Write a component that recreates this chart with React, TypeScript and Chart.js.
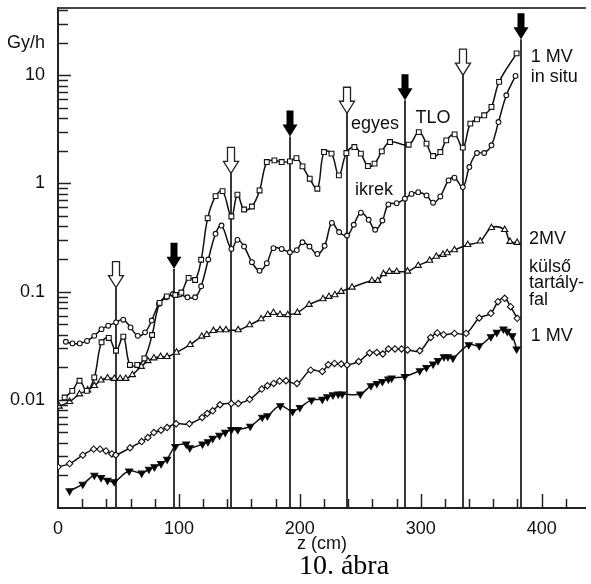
import React, { useEffect, useRef } from 'react';
import { Chart, registerables } from 'chart.js';

Chart.register(...registerables);

// ---- data (z in cm, dose rate in Gy/h) ----
const egyesZ = [5.5, 11.8, 17.8, 23.8, 30, 36, 42, 48, 54, 59.5, 65.5, 71.5, 77.8, 84, 90, 97, 102, 108, 113.4, 118.4, 123.8, 130.3, 136.1, 143.4, 148.4, 153.9, 160.4, 166.7, 172.7, 179, 185, 191.8, 197.2, 202.2, 208.2, 214.5, 220, 226.2, 232.3, 238.5, 245.1, 250.5, 256.3, 261.8, 267.8, 274.6, 290, 298.4, 304.8, 310.2, 316.2, 321.1, 328, 334.8, 341, 346.5, 352.5, 358.5, 364.8, 379.3];
const egyesDose = [0.0105, 0.0121, 0.015, 0.0121, 0.0161, 0.034, 0.0373, 0.0284, 0.0383, 0.021, 0.021, 0.0241, 0.0397, 0.0786, 0.0904, 0.093, 0.098, 0.134, 0.128, 0.197, 0.477, 0.763, 0.849, 0.495, 0.786, 0.574, 0.612, 0.861, 1.575, 1.633, 1.575, 1.598, 1.714, 1.437, 1.105, 0.893, 1.949, 1.884, 1.186, 1.909, 2.168, 1.884, 1.446, 1.522, 1.977, 2.41, 2.28, 2.98, 2.33, 1.79, 1.95, 2.5, 2.84, 2.14, 3.57, 3.91, 4.26, 5.09, 8.67, 15.9];

const ikrekZ = [6.5, 12, 18, 24, 30, 36, 41.5, 48, 54, 60, 66, 72, 77.5, 83.5, 89.6, 95, 100.6, 107.1, 113.4, 118.4, 124.3, 130.3, 135.2, 143.4, 148.4, 153.9, 160.4, 166.7, 172.7, 178.2, 185, 191.8, 197.5, 202.2, 208, 214.5, 220.5, 226.5, 232.5, 239, 244.6, 250.5, 256.9, 262.3, 268.3, 273.2, 280.1, 286.9, 292.4, 297.9, 304.8, 310.2, 316.2, 323, 327.9, 334.8, 340.2, 346.5, 352.5, 358.5, 364.3, 370.8, 378.4];
const ikrekDose = [0.0344, 0.0332, 0.0332, 0.035, 0.039, 0.045, 0.0484, 0.052, 0.055, 0.0467, 0.039, 0.042, 0.054, 0.077, 0.0886, 0.095, 0.094, 0.0886, 0.0886, 0.112, 0.198, 0.342, 0.408, 0.248, 0.301, 0.261, 0.187, 0.156, 0.183, 0.252, 0.248, 0.231, 0.242, 0.286, 0.261, 0.223, 0.265, 0.432, 0.355, 0.33, 0.415, 0.536, 0.461, 0.373, 0.454, 0.639, 0.657, 0.722, 0.8, 0.83, 0.774, 0.663, 0.758, 1.066, 1.129, 0.924, 1.416, 1.909, 1.909, 2.25, 3.69, 6.53, 9.85];

const mv2Z = [1, 9.6, 17.8, 24.5, 30.1, 35.6, 41, 46.5, 51.4, 56.1, 61.5, 68.8, 74.3, 79.3, 84.8, 90.2, 98, 109.3, 118.9, 123, 128.5, 134, 138.9, 149, 158.5, 168, 173.5, 178.2, 183.6, 190, 198, 207.7, 219.2, 224.1, 229, 234.2, 243.2, 259.6, 264.5, 269.2, 274.1, 280.1, 289.1, 297.9, 307.4, 312.9, 318.4, 321.9, 327.9, 338.9, 349.2, 358.5, 369.4, 373.8, 379.8];
const mv2Dose = [0.0087, 0.0096, 0.0113, 0.0123, 0.0135, 0.0152, 0.0159, 0.0157, 0.0157, 0.0157, 0.017, 0.0203, 0.0229, 0.0243, 0.025, 0.025, 0.0274, 0.0323, 0.0386, 0.04, 0.0435, 0.0442, 0.0442, 0.0442, 0.0492, 0.0558, 0.0612, 0.0639, 0.0612, 0.061, 0.064, 0.0758, 0.0856, 0.0899, 0.0932, 0.1, 0.1096, 0.1264, 0.1264, 0.146, 0.153, 0.153, 0.154, 0.174, 0.194, 0.211, 0.22, 0.228, 0.243, 0.271, 0.292, 0.389, 0.373, 0.29, 0.284];

const wallZ = [0, 9.6, 20.5, 29.5, 34.8, 39.7, 44.6, 47.8, 59.6, 69.2, 74.3, 79.3, 85.2, 90.2, 97.7, 108.6, 119.2, 123.4, 127.9, 134, 143.4, 149.1, 158.5, 168.5, 173.2, 178.4, 183.3, 188.6, 197.6, 209, 218.6, 223.5, 228.7, 234.2, 239.1, 248.7, 257.7, 263.7, 268.6, 273.3, 278.7, 284.2, 289.1, 299.2, 308.2, 313.7, 318.9, 327.9, 337.5, 348.4, 358, 363.9, 369.4, 374.3, 379.8];
const wallDose = [0.0024, 0.00257, 0.00308, 0.0035, 0.0035, 0.00337, 0.00316, 0.00309, 0.0036, 0.00411, 0.00448, 0.00498, 0.00524, 0.00554, 0.006, 0.006, 0.00686, 0.00747, 0.00791, 0.009, 0.00924, 0.00924, 0.0101, 0.01256, 0.0135, 0.01417, 0.0149, 0.015, 0.01416, 0.0188, 0.0183, 0.0211, 0.0217, 0.0214, 0.021, 0.0226, 0.0271, 0.0274, 0.0265, 0.0295, 0.0295, 0.0295, 0.0289, 0.0284, 0.0377, 0.0415, 0.04, 0.0411, 0.0411, 0.0571, 0.063, 0.0807, 0.0867, 0.0726, 0.0566];

const mv1Z = [9.6, 20.5, 30.1, 35.6, 41, 46.5, 58.8, 69.2, 75.2, 79.8, 85.2, 90.2, 97, 106, 109, 119.5, 124, 128, 133.5, 138.3, 143.4, 148.7, 159, 168.9, 173.2, 183.8, 194, 200, 209.6, 218.6, 222.7, 227.4, 231.7, 235, 250, 258.8, 263.7, 268.3, 273.2, 275.9, 286.8, 299.2, 304.7, 310.2, 314.3, 319.2, 322.5, 326.6, 339.7, 348.4, 358, 362.9, 368.4, 371.6, 375.7, 379.3];
const mv1Dose = [0.00144, 0.00166, 0.00201, 0.00191, 0.0018, 0.00175, 0.0022, 0.0021, 0.00228, 0.0024, 0.00257, 0.00282, 0.0037, 0.0039, 0.0036, 0.0039, 0.0041, 0.0044, 0.0047, 0.005, 0.0053, 0.0053, 0.0057, 0.0069, 0.0071, 0.0088, 0.0078, 0.0085, 0.00994, 0.0101, 0.01066, 0.0111, 0.0113, 0.0113, 0.0113, 0.0135, 0.01416, 0.01477, 0.01555, 0.01589, 0.01643, 0.01857, 0.0199, 0.0214, 0.023, 0.025, 0.025, 0.0243, 0.0323, 0.0316, 0.0383, 0.042, 0.0451, 0.0429, 0.039, 0.0295];

// axis ticks
const xTickValues = [0, 100, 200, 300, 400];
const yTickValues = [0.01, 0.1, 1, 10, 20];
const yTickLabels = ['0.01', '0.1', '1', '10', 'Gy/h'];

// marker lines with arrows (z position, arrow tip dose level, filled?)
const arrowZ = [48, 96.2, 143.4, 191.8, 239, 286.9, 334.7, 383];
const arrowTip = [0.109, 0.163, 1.24, 2.72, 4.45, 5.87, 10.0, 21.5];
const arrowFilled = [false, true, false, true, false, true, false, true];

// text annotations (anchored at z, dose)
const noteText = ['1 MV', 'in situ', 'egyes', 'TLO', 'ikrek', '2MV', 'külső', 'tartály-', 'fal', '1 MV'];
const noteZ = [391, 391, 242.4, 295.7, 245.7, 389.5, 389.5, 389.5, 389.5, 391];
const noteDose = [14.7, 9.58, 3.52, 4.0, 0.861, 0.303, 0.167, 0.119, 0.0843, 0.0391];

const SANS = '"Liberation Sans", Arial, Helvetica, sans-serif';
const SERIF = '"Liberation Serif", "Times New Roman", serif';
const INK = '#111';

const pts = (xs: number[], ys: number[]) => xs.map((x, i) => ({ x, y: ys[i] }));

const baseDs = {
  showLine: true,
  tension: 0.4,
  borderColor: INK,
  borderWidth: 1.5,
  pointBorderColor: INK,
  pointBorderWidth: 1.1,
  pointBackgroundColor: '#fff',
  fill: false,
};

const zeroPad = (s: any) => {
  s.paddingTop = 0;
  s.paddingBottom = 0;
  s.paddingLeft = 0;
  s.paddingRight = 0;
};

const decor = {
  id: 'decor',
  beforeDatasetsDraw(chart: any) {
    const { ctx, chartArea, scales } = chart;
    const xs = scales.x;
    const ys = scales.y;
    ctx.save();
    arrowZ.forEach((z, i) => {
      const px = Math.round(xs.getPixelForValue(z));
      const tip = ys.getPixelForValue(arrowTip[i]);
      ctx.strokeStyle = '#222';
      ctx.lineWidth = 1.8;
      ctx.beginPath();
      ctx.moveTo(px, tip);
      ctx.lineTo(px, chartArea.bottom);
      ctx.stroke();
      const sw = 3.5, hw = 7.5, hh = 12, total = 26;
      ctx.beginPath();
      ctx.moveTo(px - sw, tip - total);
      ctx.lineTo(px + sw, tip - total);
      ctx.lineTo(px + sw, tip - hh);
      ctx.lineTo(px + hw, tip - hh);
      ctx.lineTo(px, tip);
      ctx.lineTo(px - hw, tip - hh);
      ctx.lineTo(px - sw, tip - hh);
      ctx.closePath();
      if (arrowFilled[i]) {
        ctx.fillStyle = '#000';
        ctx.fill();
      } else {
        ctx.fillStyle = '#fff';
        ctx.fill();
        ctx.lineWidth = 1.3;
        ctx.stroke();
      }
    });
    ctx.restore();
  },
  afterDraw(chart: any) {
    const { ctx, chartArea, scales } = chart;
    const xs = scales.x;
    const ys = scales.y;
    ctx.save();
    ctx.strokeStyle = '#222';
    ctx.lineWidth = 1.5;
    // x ticks inside
    for (let v = 20; v < xs.max; v += 20) {
      const px = Math.round(xs.getPixelForValue(v)) + 0.5;
      const len = v % 100 === 0 ? 14 : 9;
      ctx.beginPath();
      ctx.moveTo(px, chartArea.bottom);
      ctx.lineTo(px, chartArea.bottom - len);
      ctx.stroke();
    }
    // y ticks inside
    for (let e = -3; e <= 1; e++) {
      for (let m = 1; m <= 9; m++) {
        const v = m * Math.pow(10, e);
        if (v <= ys.min * 1.001 || v >= ys.max) continue;
        const py = Math.round(ys.getPixelForValue(v)) + 0.5;
        const len = m === 1 ? 13 : 10;
        ctx.beginPath();
        ctx.moveTo(chartArea.left, py);
        ctx.lineTo(chartArea.left + len, py);
        ctx.stroke();
      }
    }
    // top frame line
    ctx.strokeStyle = '#444';
    ctx.lineWidth = 2;
    ctx.beginPath();
    ctx.moveTo(chartArea.left, chartArea.top);
    ctx.lineTo(chartArea.right, chartArea.top);
    ctx.stroke();
    // annotations
    ctx.fillStyle = INK;
    ctx.font = `18px ${SANS}`;
    ctx.textAlign = 'left';
    ctx.textBaseline = 'middle';
    noteText.forEach((t, i) => {
      ctx.fillText(t, xs.getPixelForValue(noteZ[i]), ys.getPixelForValue(noteDose[i]));
    });
    // caption
    ctx.font = `28px ${SERIF}`;
    ctx.textAlign = 'center';
    ctx.textBaseline = 'alphabetic';
    ctx.fillStyle = '#000';
    ctx.fillText('10. ábra', 344, 574);
    ctx.restore();
  },
};

export default function App() {
  const ref = useRef<HTMLCanvasElement>(null);
  useEffect(() => {
    document.body.style.margin = '0';
    const chart = new Chart(ref.current as HTMLCanvasElement, {
      type: 'scatter',
      data: {
        datasets: [
          { ...baseDs, label: 'egyes TLO', data: pts(egyesZ, egyesDose), pointStyle: 'rect', pointRadius: 3.4 },
          { ...baseDs, label: 'ikrek', data: pts(ikrekZ, ikrekDose), pointStyle: 'circle', pointRadius: 2.4 },
          { ...baseDs, label: '2MV külső tartályfal', data: pts(mv2Z, mv2Dose), pointStyle: 'triangle', pointRadius: 3.6 },
          { ...baseDs, label: '1 MV külső tartályfal (◇)', data: pts(wallZ, wallDose), pointStyle: 'rectRot', pointRadius: 3.2 },
          { ...baseDs, label: '1 MV külső tartályfal (▼)', data: pts(mv1Z, mv1Dose), pointStyle: 'triangle', pointRotation: 180, pointRadius: 4, pointBackgroundColor: '#000' },
        ] as any,
      },
      options: {
        responsive: false,
        animation: false,
        layout: { padding: { top: 8, right: 0, left: 0, bottom: 0 } },
        plugins: { legend: { display: false }, tooltip: { enabled: false }, title: { display: false } },
        scales: {
          x: {
            type: 'linear',
            min: 0,
            max: 436.6,
            grid: { display: false },
            border: { display: true, color: '#222', width: 2 },
            ticks: { color: INK, font: { size: 18, family: SANS }, padding: 2, autoSkip: false, maxRotation: 0 },
            afterBuildTicks: (s: any) => { s.ticks = xTickValues.map((v) => ({ value: v })); },
            afterFit: (s: any) => { s.height = 76; zeroPad(s); },
            title: { display: true, text: 'z (cm)', color: INK, font: { size: 18, family: SANS }, padding: { top: 0, bottom: 29 } },
          },
          y: {
            type: 'logarithmic',
            min: 0.001,
            max: 41.8,
            grid: { display: false },
            border: { display: true, color: '#222', width: 2 },
            ticks: {
              color: INK,
              font: { size: 18, family: SANS },
              padding: 5,
              autoSkip: false,
              callback: (v: any) => {
                const i = yTickValues.indexOf(Number(v));
                return i >= 0 ? yTickLabels[i] : '';
              },
            },
            afterBuildTicks: (s: any) => { s.ticks = yTickValues.map((v) => ({ value: v })); },
            afterFit: (s: any) => { s.width = 58; zeroPad(s); },
          },
        },
      } as any,
      plugins: [decor],
    });
    return () => chart.destroy();
  }, []);
  return <canvas ref={ref} width={591} height={584} style={{ display: 'block' }} />;
}
